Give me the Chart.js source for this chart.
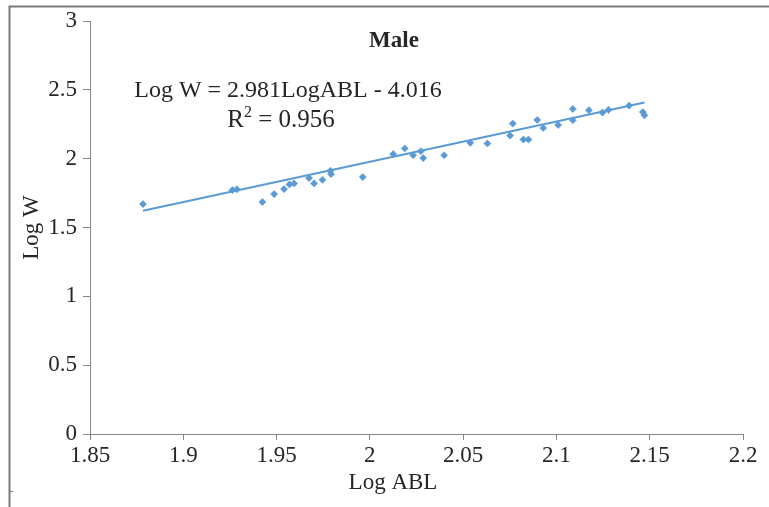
<!DOCTYPE html>
<html>
<head>
<meta charset="utf-8">
<style>
  html, body { margin: 0; padding: 0; background: #fff; }
  #wrap { width: 769px; height: 507px; }
</style>
<script src="https://cdn.jsdelivr.net/npm/chart.js@4"></script>
</head>
<body>
<div id="wrap"><canvas id="chart"></canvas></div>
<script>
const abl = [1.8784, 1.9263, 1.9287, 1.9424, 1.9487, 1.954, 1.9569, 1.9594, 1.9674, 1.9701,
             1.9746, 1.9789, 1.9792, 1.9962, 2.0125, 2.0187, 2.0232, 2.0273, 2.0286, 2.0398,
             2.0538, 2.063, 2.0752, 2.0766, 2.0823, 2.085, 2.0897, 2.0929, 2.1009, 2.1088,
             2.1088, 2.1174, 2.1247, 2.1279, 2.139, 2.1463, 2.1472];
const logW = [1.670, 1.772, 1.777, 1.685, 1.743, 1.779, 1.813, 1.820, 1.859, 1.820,
              1.846, 1.912, 1.888, 1.866, 2.033, 2.074, 2.025, 2.054, 2.004, 2.025,
              2.115, 2.110, 2.168, 2.255, 2.139, 2.139, 2.281, 2.223, 2.245, 2.361,
              2.279, 2.352, 2.335, 2.354, 2.386, 2.339, 2.315];
const trendX = [1.8784, 2.1472];
const trendY = [1.622, 2.408];

const xTickValues = [1.85, 1.9, 1.95, 2, 2.05, 2.1, 2.15, 2.2];
const xTickLabels = ['1.85', '1.9', '1.95', '2', '2.05', '2.1', '2.15', '2.2'];
const yTickValues = [0, 0.5, 1, 1.5, 2, 2.5, 3];
const yTickLabels = ['0', '0.5', '1', '1.5', '2', '2.5', '3'];

const serif = "'Liberation Serif', 'Times New Roman', serif";
const blue = '#5b9bd5';
const axisGray = '#868686';
const textColor = '#262626';

const framePlugin = {
    id: 'framePlugin',
    beforeDraw: (chart) => {
        const ctx = chart.ctx;
        ctx.save();
        ctx.strokeStyle = '#7a7a7a';
        ctx.lineWidth = 2;
        ctx.beginPath();
        ctx.moveTo(9.5, 507);
        ctx.lineTo(9.5, 6.5);
        ctx.lineTo(769, 6.5);
        ctx.stroke();
        ctx.lineWidth = 1;
        ctx.beginPath();
        ctx.moveTo(10, 491.5);
        ctx.lineTo(13, 491.5);
        ctx.stroke();
        ctx.restore();
    },
    afterDraw: (chart) => {
        const ctx = chart.ctx;
        ctx.save();
        ctx.fillStyle = textColor;
        ctx.textAlign = 'center';
        ctx.textBaseline = 'middle';
        ctx.font = 'bold 23px ' + serif;
        ctx.fillText('Male', 394, 41);

        ctx.font = '23px ' + serif;
        ctx.fillText('Log ABL', 393, 483);

        ctx.font = '24px ' + serif;
        ctx.fillText('Log W = 2.981LogABL - 4.016', 288, 91);

        // R² line with a small superscript
        const a = 'R', b = '2', c = ' = 0.956';
        ctx.font = '25px ' + serif;
        const wa = ctx.measureText(a).width, wc = ctx.measureText(c).width;
        ctx.font = '16px ' + serif;
        const wb = ctx.measureText(b).width;
        let x0 = 281 - (wa + wb + wc) / 2;
        ctx.textAlign = 'left';
        ctx.font = '25px ' + serif;
        ctx.fillText(a, x0, 120);
        ctx.font = '16px ' + serif;
        ctx.fillText(b, x0 + wa, 113);
        ctx.font = '25px ' + serif;
        ctx.fillText(c, x0 + wa + wb, 120);
        ctx.restore();
    }
};

new Chart(document.getElementById('chart'), {
    type: 'scatter',
    data: {
        datasets: [
            {
                label: 'Male',
                data: abl.map((x, i) => ({ x: x, y: logW[i] })),
                backgroundColor: blue,
                borderColor: blue,
                borderWidth: 0.5,
                pointStyle: 'rectRot',
                pointRadius: 3.6,
                order: 2
            },
            {
                label: 'Trend',
                type: 'line',
                data: trendX.map((x, i) => ({ x: x, y: trendY[i] })),
                borderColor: blue,
                borderWidth: 2,
                pointRadius: 0,
                fill: false,
                order: 1
            }
        ]
    },
    options: {
        responsive: true,
        maintainAspectRatio: false,
        animation: false,
        layout: { padding: { top: 21, left: 10, right: 26, bottom: 0 } },
        scales: {
            x: {
                type: 'linear',
                min: 1.85,
                max: 2.2,
                afterBuildTicks: (s) => { s.ticks = xTickValues.map(v => ({ value: v })); },
                afterFit: (s) => { s.height = 73; },
                border: { color: axisGray, width: 1 },
                grid: { drawOnChartArea: false, drawTicks: true, tickLength: 6, color: axisGray },
                ticks: {
                    color: textColor,
                    font: { family: serif, size: 23 },
                    padding: 2,
                    maxRotation: 0,
                    autoSkip: false,
                    callback: (v, i) => xTickLabels[i]
                },
                title: { display: false }
            },
            y: {
                type: 'linear',
                min: 0,
                max: 3,
                afterBuildTicks: (s) => { s.ticks = yTickValues.map(v => ({ value: v })); },
                afterFit: (s) => { s.width = 80; },
                border: { color: axisGray, width: 1 },
                grid: { drawOnChartArea: false, drawTicks: true, tickLength: 7, color: axisGray },
                ticks: {
                    color: textColor,
                    font: { family: serif, size: 23 },
                    padding: 6,
                    autoSkip: false,
                    callback: (v, i) => yTickLabels[i]
                },
                title: {
                    display: true,
                    text: 'Log W',
                    color: textColor,
                    font: { family: serif, size: 23 },
                    padding: { top: 8, bottom: 0 }
                }
            }
        },
        plugins: {
            legend: { display: false },
            tooltip: { enabled: false }
        }
    },
    plugins: [framePlugin]
});
</script>
</body>
</html>
